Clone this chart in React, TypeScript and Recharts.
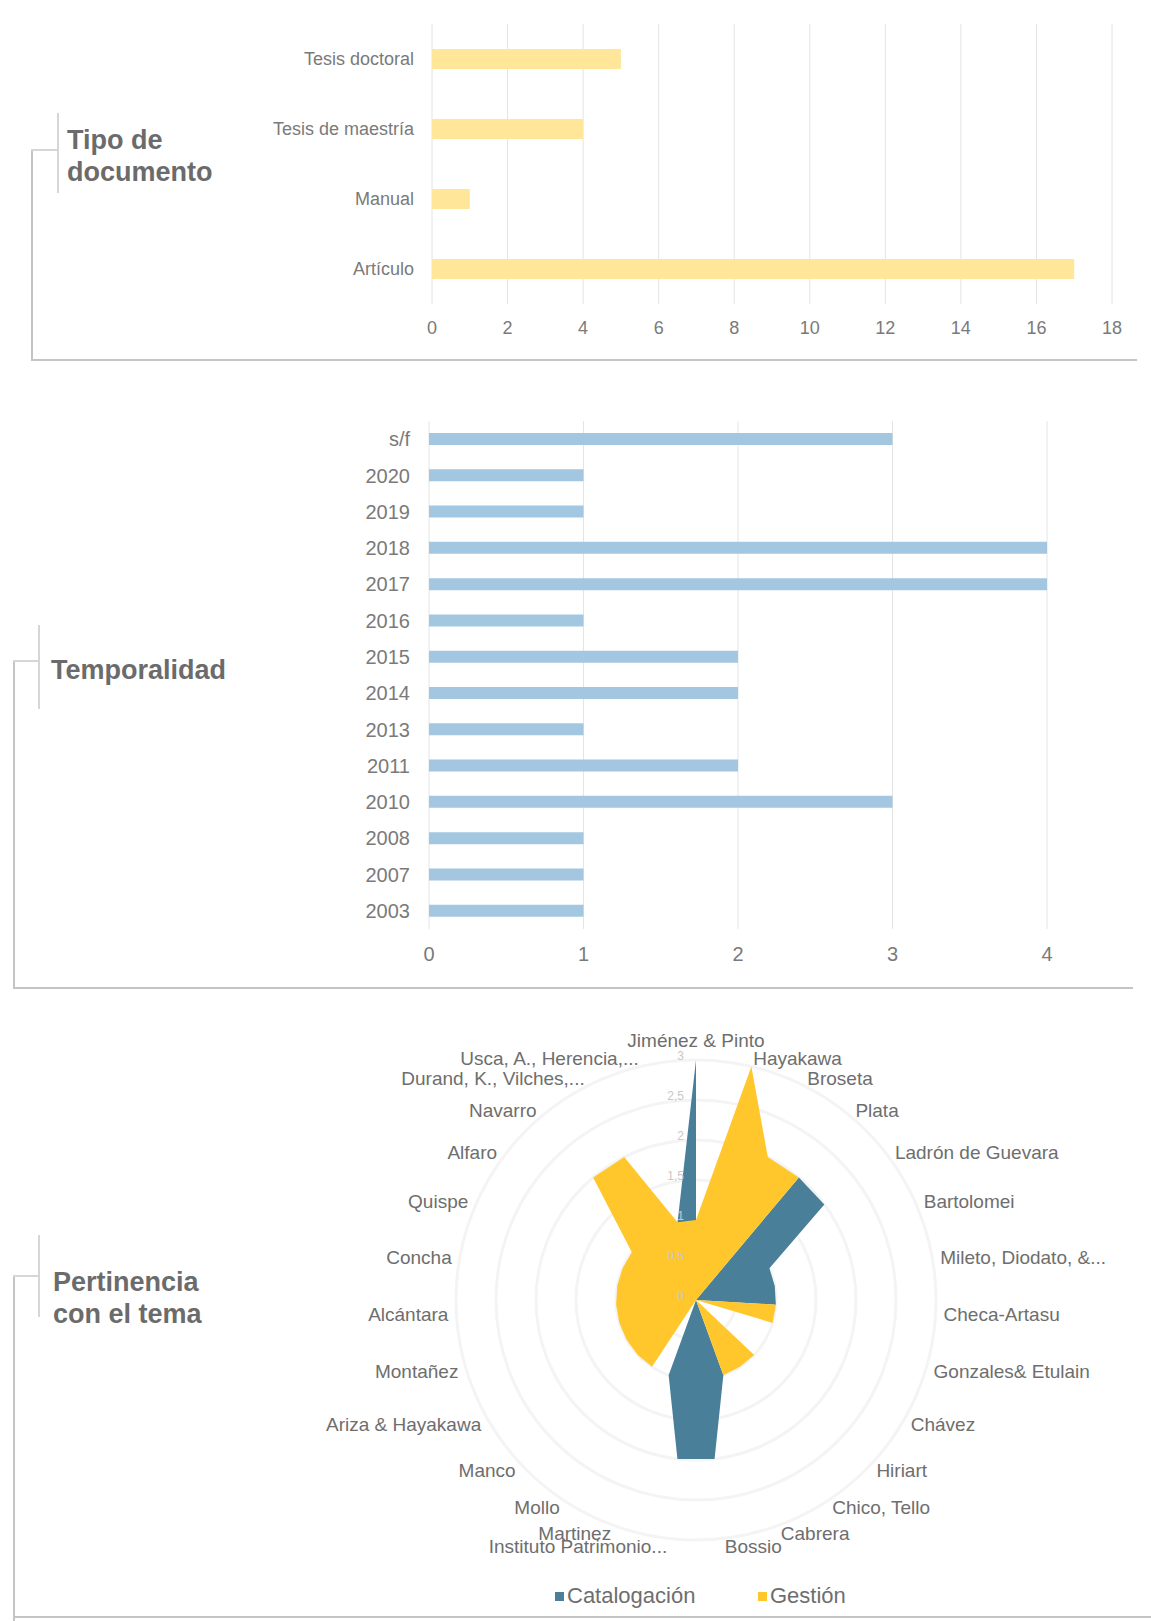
import {
  Bar,
  BarChart,
  CartesianGrid,
  Legend,
  PolarAngleAxis,
  PolarGrid,
  PolarRadiusAxis,
  Radar,
  RadarChart,
  XAxis,
  YAxis,
} from 'recharts';

const docTypes = ['Tesis doctoral', 'Tesis de maestría', 'Manual', 'Artículo'];
const docCounts = [5, 4, 1, 17];
const docTicks = [0, 2, 4, 6, 8, 10, 12, 14, 16, 18];

const years = ['s/f', '2020', '2019', '2018', '2017', '2016', '2015', '2014', '2013', '2011', '2010', '2008', '2007', '2003'];
const yearCounts = [3, 1, 1, 4, 4, 1, 2, 2, 1, 2, 3, 1, 1, 1];
const yearTicks = [0, 1, 2, 3, 4];

const authors = [
  'Jiménez & Pinto',
  'Hayakawa',
  'Broseta',
  'Plata',
  'Ladrón de Guevara',
  'Bartolomei',
  'Mileto, Diodato, &...',
  'Checa-Artasu',
  'Gonzales& Etulain',
  'Chávez',
  'Hiriart',
  'Chico, Tello',
  'Cabrera',
  'Bossio',
  'Instituto Patrimonio...',
  'Martinez',
  'Mollo',
  'Manco',
  'Ariza & Hayakawa',
  'Montañez',
  'Alcántara',
  'Concha',
  'Quispe',
  'Alfaro',
  'Navarro',
  'Durand, K., Vilches,...',
  'Usca, A., Herencia,...',
];
const catalogacion = [3, 0, 0, 2, 2, 1, 1, 1, 0, 0, 0, 0, 1, 2, 2, 1, 0, 0, 0, 0, 0, 0, 0, 0, 0, 0, 1];
const gestion = [1, 3, 2, 2, 0, 0, 0, 1, 1, 0, 1, 1, 1, 0, 0, 0, 1, 1, 1, 1, 1, 1, 1, 1, 2, 2, 1];
const radarTicks = [0, 0.5, 1, 1.5, 2, 2.5, 3];
const seriesNames = ['Catalogación', 'Gestión'];
const seriesColors = ['#4a7f99', '#ffc72c'];

const FONT = '"Liberation Sans", Arial, sans-serif';
const TICK_GRAY = '#7a7a7a';
const TITLE_GRAY = '#6b6b6b';
const FRAME = '#c4c4c4';
const RADAR_CX = 696;
const RADAR_CY = 300;

function Rule({ left, top, width, height, color = FRAME }: { left: number; top: number; width: number; height: number; color?: string }) {
  return <div style={{ position: 'absolute', left, top, width, height, background: color }} />;
}

function Title({ left, top, lines }: { left: number; top: number; lines: string[] }) {
  return (
    <div
      style={{
        position: 'absolute',
        left,
        top,
        fontFamily: FONT,
        fontWeight: 700,
        fontSize: 27,
        lineHeight: '32px',
        color: TITLE_GRAY,
        whiteSpace: 'nowrap',
      }}
    >
      {lines.map((l) => (
        <div key={l}>{l}</div>
      ))}
    </div>
  );
}

function AngleTick(props: any) {
  const { x, y, payload, textAnchor } = props;
  let shift = 0;
  if (textAnchor === 'middle') shift = y < RADAR_CY ? -12 : 12;
  return (
    <text x={x} y={y + shift} dy="0.35em" textAnchor={textAnchor} fill="#6e6e6e" fontSize={19} fontFamily={FONT}>
      {payload.value}
    </text>
  );
}

export default function App() {
  const docData = docTypes.map((name, i) => ({ name, value: docCounts[i] }));
  const yearData = years.map((name, i) => ({ name, value: yearCounts[i] }));
  const radarData = authors.map((name, i) => ({ name, cat: catalogacion[i], ges: gestion[i] }));

  const tickStyle = (size: number) => ({ fill: TICK_GRAY, fontSize: size, fontFamily: FONT });

  return (
    <div style={{ position: 'absolute', left: 0, top: 0, width: 1151, height: 1621, background: '#fff', overflow: 'hidden' }}>
      {/* panel 1 frame */}
      <Rule left={31} top={150} width={2} height={211} />
      <Rule left={31} top={359} width={1106} height={2} />
      <Rule left={31} top={149} width={26} height={2} color="#d6d6d6" />
      <Rule left={57} top={113} width={2} height={80} color="#d6d6d6" />
      <Title left={67} top={124} lines={['Tipo de', 'documento']} />

      {/* panel 2 frame */}
      <Rule left={13} top={661} width={2} height={328} />
      <Rule left={13} top={987} width={1120} height={2} />
      <Rule left={13} top={660} width={25} height={2} color="#d6d6d6" />
      <Rule left={38} top={625} width={2} height={84} color="#d6d6d6" />
      <Title left={51} top={654} lines={['Temporalidad']} />

      {/* panel 3 frame */}
      <Rule left={13} top={1276} width={2} height={345} />
      <Rule left={13} top={1616} width={1138} height={2} />
      <Rule left={13} top={1275} width={25} height={2} color="#d6d6d6" />
      <Rule left={38} top={1235} width={2} height={82} color="#d6d6d6" />
      <Title left={53} top={1266} lines={['Pertinencia', 'con el tema']} />

      <div style={{ position: 'absolute', left: 0, top: 0 }}>
        <BarChart width={1151} height={360} data={docData} layout="vertical" margin={{ top: 24, right: 39, bottom: 0, left: 0 }}>
          <CartesianGrid horizontal={false} stroke="#e4e4e4" />
          <XAxis
            type="number"
            domain={[0, 18]}
            ticks={docTicks}
            interval={0}
            height={56}
            axisLine={false}
            tickLine={false}
            tickMargin={11}
            tick={tickStyle(18)}
          />
          <YAxis
            type="category"
            dataKey="name"
            width={432}
            interval={0}
            axisLine={false}
            tickLine={false}
            tickMargin={12}
            tick={tickStyle(18)}
          />
          <Bar dataKey="value" fill="#ffe699" barSize={20} isAnimationActive={false} />
        </BarChart>
      </div>

      <div style={{ position: 'absolute', left: 0, top: 400 }}>
        <BarChart width={1151} height={588} data={yearData} layout="vertical" margin={{ top: 21, right: 104, bottom: 0, left: 0 }}>
          <CartesianGrid horizontal={false} stroke="#e4e4e4" />
          <XAxis
            type="number"
            domain={[0, 4]}
            ticks={yearTicks}
            interval={0}
            height={59}
            axisLine={false}
            tickLine={false}
            tickMargin={12}
            tick={tickStyle(20)}
          />
          <YAxis
            type="category"
            dataKey="name"
            width={429}
            interval={0}
            axisLine={false}
            tickLine={false}
            tickMargin={13}
            tick={tickStyle(20)}
          />
          <Bar dataKey="value" fill="#a3c7e0" barSize={12} isAnimationActive={false} />
        </BarChart>
      </div>

      <div style={{ position: 'absolute', left: 0, top: 1000 }}>
        <RadarChart
          width={1151}
          height={621}
          cx={RADAR_CX}
          cy={RADAR_CY}
          outerRadius={240}
          data={radarData}
          margin={{ top: 0, right: 0, bottom: 0, left: 0 }}
        >
          <PolarGrid gridType="circle" radialLines={false} stroke="#f4f4f4" strokeWidth={3} />
          <PolarAngleAxis dataKey="name" axisLine={false} tickLine={false} tick={(p: any) => <AngleTick {...p} />} />
          <PolarRadiusAxis
            angle={90}
            domain={[0, 3]}
            ticks={radarTicks as any}
            tickCount={7}
            orientation="left"
            axisLine={false}
            tickLine={false}
            tickFormatter={(v: number) => String(v).replace('.', ',')}
            tick={{ fill: '#c8c8c8', fontSize: 12, fontFamily: FONT, dx: -12 } as any}
          />
          <Radar name={seriesNames[0]} dataKey="cat" fill={seriesColors[0]} fillOpacity={1} stroke="none" isAnimationActive={false} />
          <Radar name={seriesNames[1]} dataKey="ges" fill={seriesColors[1]} fillOpacity={1} stroke="none" isAnimationActive={false} />
          <Legend
            wrapperStyle={{ position: 'absolute', left: 555, top: 582, width: 320, height: 28 }}
            content={() => (
              <div style={{ display: 'flex', fontFamily: FONT, fontSize: 22, color: '#6e6e6e', lineHeight: '28px' }}>
                {seriesNames.map((n, i) => (
                  <div key={n} style={{ display: 'flex', alignItems: 'center', width: i === 0 ? 203 : 110 }}>
                    <span style={{ width: 9, height: 9, background: seriesColors[i], marginRight: 3, display: 'inline-block' }} />
                    {n}
                  </div>
                ))}
              </div>
            )}
          />
        </RadarChart>
      </div>
    </div>
  );
}
